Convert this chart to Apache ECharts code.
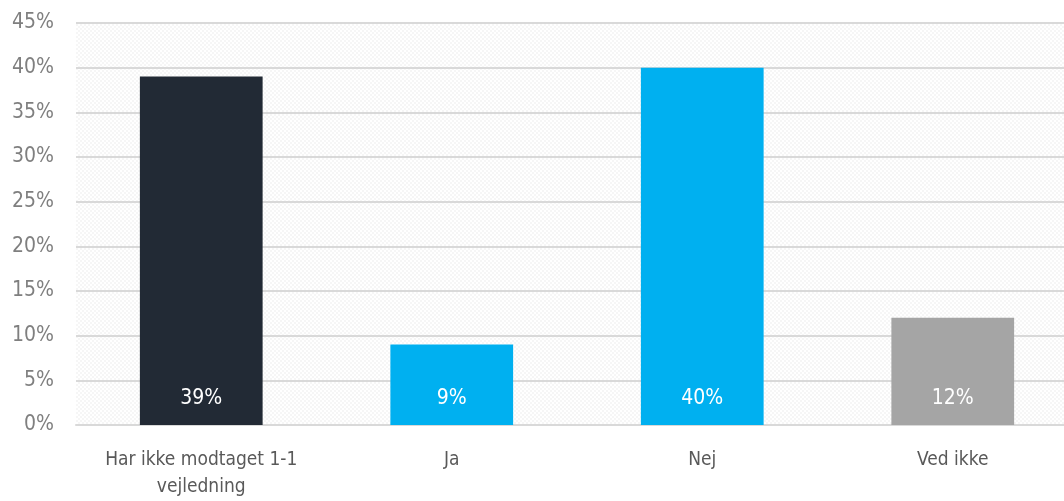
<!DOCTYPE html>
<html>
<head>
<meta charset="utf-8">
<script src="https://cdn.jsdelivr.net/npm/echarts@6/dist/echarts.min.js"></script>
<style>
  html, body { margin: 0; padding: 0; background: #fff; overflow: hidden; }
  /* plot runs a little past the right edge of the page */
  #chart { width: 1078px; height: 501px; }
</style>
</head>
<body>
<div id="chart"></div>
<script>
const categories = ['Har ikke modtaget 1-1\nvejledning', 'Ja', 'Nej', 'Ved ikke'];
const values = [39, 9, 40, 12];
const barColors = ['#222a35', '#00b0f0', '#00b0f0', '#a5a5a5'];

const FONT = "'Liberation Sans Narrow', 'DejaVu Sans Condensed', sans-serif";

// faint checkered fill for the plot area
const tile = document.createElement('canvas');
tile.width = 4; tile.height = 4;
const tctx = tile.getContext('2d');
tctx.fillStyle = '#ffffff';
tctx.fillRect(0, 0, 4, 4);
tctx.fillStyle = '#f6f6f6';
tctx.fillRect(0, 0, 2, 2);
tctx.fillRect(2, 2, 2, 2);

const chart = echarts.init(document.getElementById('chart'), null, { renderer: 'canvas' });
chart.setOption({
  animation: false,
  grid: {
    left: 76, right: 0, top: 23, bottom: 76,
    show: true,
    borderWidth: 0,
    backgroundColor: { image: tile, repeat: 'repeat' }
  },
  xAxis: {
    type: 'category',
    data: categories,
    axisLine: { show: true, lineStyle: { color: '#d9d9d9', width: 2 } },
    axisTick: { show: false },
    axisLabel: {
      interval: 0,
      color: '#595959', fontFamily: FONT, fontSize: 19, lineHeight: 27, margin: 22
    }
  },
  yAxis: {
    type: 'value',
    min: 0, max: 45, interval: 5,
    axisLine: { show: false },
    axisTick: { show: false },
    splitLine: { lineStyle: { color: '#d9d9d9', width: 2 } },
    axisLabel: {
      formatter: '{value}%', color: '#7f7f7f', fontFamily: FONT, fontSize: 21, margin: 22
    }
  },
  series: [{
    type: 'bar',
    data: values.map((v, i) => ({ value: v, itemStyle: { color: barColors[i] } })),
    barWidth: '49%',
    label: {
      show: true,
      position: 'insideBottom',
      distance: 16,
      formatter: '{c}%',
      color: '#ffffff',
      fontFamily: FONT,
      fontSize: 21
    }
  }]
});
</script>
</body>
</html>
